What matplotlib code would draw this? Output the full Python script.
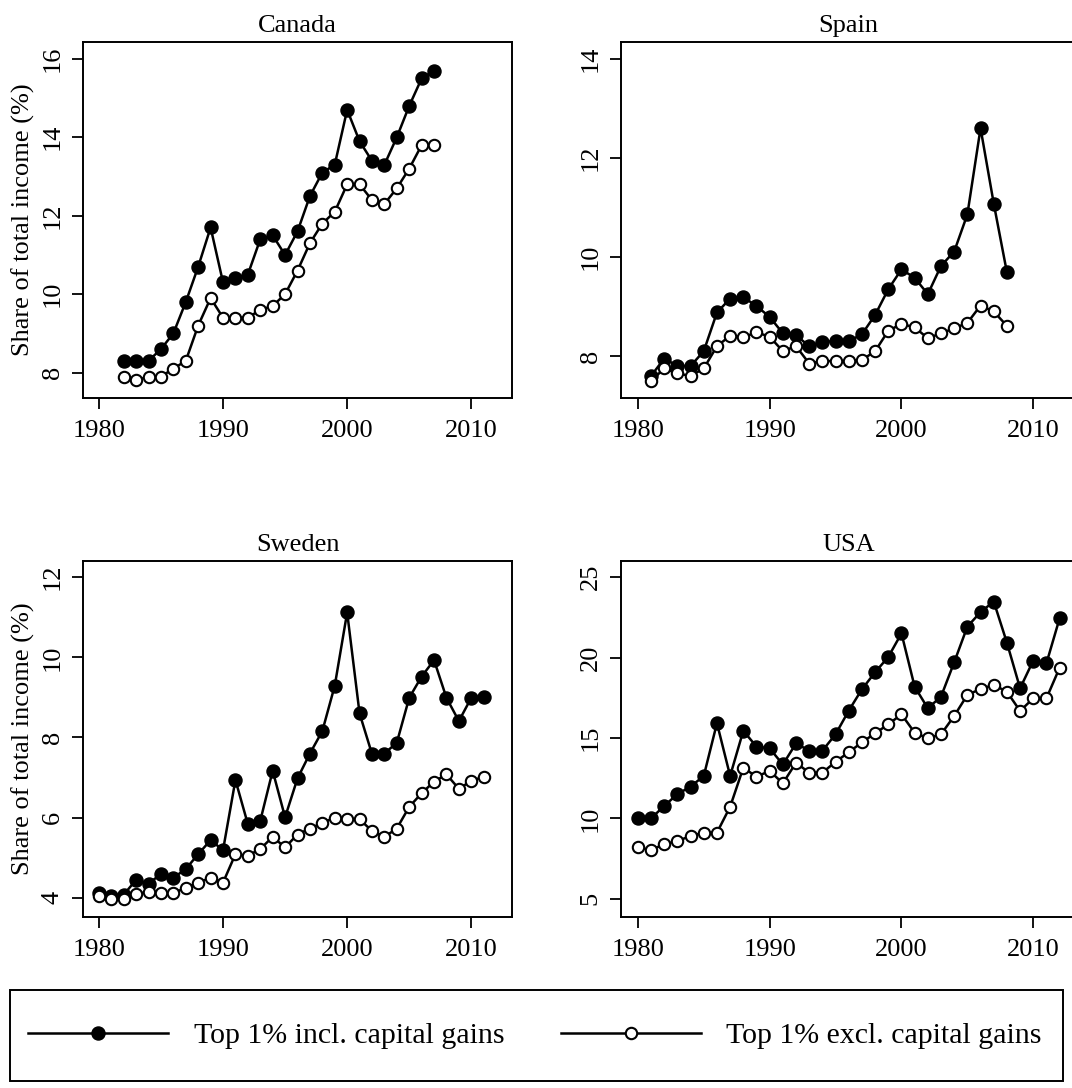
import matplotlib
matplotlib.use('Agg')
import matplotlib.pyplot as plt
from matplotlib.lines import Line2D
from matplotlib.patches import Rectangle

# 全局字体：Times 风格衬线
plt.rcParams['font.family'] = ['Liberation Serif', 'DejaVu Serif']
plt.rcParams['font.size'] = 19

# 数据：年份与两组收入份额（含/不含资本利得）
canada_years = list(range(1982, 2008))
canada_incl = [8.3, 8.3, 8.3, 8.6, 9.0, 9.8, 10.7, 11.7, 10.3, 10.4, 10.5, 11.4, 11.5,
               11.0, 11.6, 12.5, 13.1, 13.3, 14.7, 13.9, 13.4, 13.3, 14.0, 14.8, 15.5, 15.7]
canada_excl = [7.9, 7.8, 7.9, 7.9, 8.1, 8.3, 9.2, 9.9, 9.4, 9.4, 9.4, 9.6, 9.7,
               10.0, 10.6, 11.3, 11.8, 12.1, 12.8, 12.8, 12.4, 12.3, 12.7, 13.2, 13.8, 13.8]

spain_years = list(range(1981, 2009))
spain_incl = [7.6, 7.95, 7.8, 7.8, 8.1, 8.88, 9.16, 9.19, 9.01, 8.79, 8.46, 8.42, 8.2, 8.29,
              8.3, 8.3, 8.44, 8.83, 9.35, 9.75, 9.58, 9.25, 9.82, 10.11, 10.86, 12.6, 11.08, 9.69]
spain_excl = [7.5, 7.75, 7.65, 7.6, 7.75, 8.2, 8.41, 8.38, 8.48, 8.39, 8.1, 8.2, 7.85, 7.9,
              7.9, 7.9, 7.92, 8.1, 8.51, 8.65, 8.58, 8.36, 8.46, 8.56, 8.67, 9.02, 8.90, 8.61]

sweden_years = list(range(1980, 2012))
sweden_incl = [4.12, 4.05, 4.08, 4.45, 4.35, 4.6, 4.5, 4.72, 5.09, 5.44, 5.19, 6.94, 5.84,
               5.92, 7.17, 6.01, 6.98, 7.60, 8.16, 9.29, 11.12, 8.60, 7.59, 7.60, 7.87, 8.99,
               9.52, 9.93, 8.99, 8.41, 8.99, 9.02]
sweden_excl = [4.05, 3.98, 3.98, 4.1, 4.15, 4.12, 4.12, 4.25, 4.38, 4.5, 4.38, 5.09, 5.05,
               5.22, 5.52, 5.26, 5.58, 5.73, 5.87, 6.00, 5.97, 5.96, 5.67, 5.52, 5.73, 6.27,
               6.61, 6.90, 7.08, 6.72, 6.92, 7.02]

usa_years = list(range(1980, 2013))
usa_incl = [10.0, 10.0, 10.77, 11.51, 11.97, 12.64, 15.92, 12.64, 15.45, 14.46, 14.35, 13.35,
            14.66, 14.21, 14.21, 15.23, 16.70, 18.03, 19.09, 20.04, 21.51, 18.19, 16.85, 17.57,
            19.71, 21.93, 22.83, 23.49, 20.93, 18.09, 19.82, 19.65, 22.45]
usa_excl = [8.20, 8.03, 8.39, 8.59, 8.90, 9.11, 9.11, 10.72, 13.15, 12.59, 12.95, 12.18,
            13.46, 12.84, 12.84, 13.52, 14.11, 14.73, 15.29, 15.85, 16.47, 15.33, 14.98, 15.23,
            16.37, 17.68, 18.05, 18.30, 17.88, 16.68, 17.47, 17.47, 19.37]

LABEL_INCL = 'Top 1% incl. capital gains'
LABEL_EXCL = 'Top 1% excl. capital gains'
YLABEL = 'Share of total income (%)'

W, H = 1072, 1088

# 线型
STYLE_INCL = dict(color='black', lw=1.8, marker='o', ms=9.4, mfc='black', mec='black')
STYLE_EXCL = dict(color='black', lw=1.8, marker='o', ms=8.2, mfc='white', mec='black', mew=1.5)


def px_rect(x0, y0, x1, y1):
    """像素框 -> figure 坐标"""
    return [x0 / W, 1 - y1 / H, (x1 - x0) / W, (y1 - y0) / H]


def draw_panel(ax, title, years, incl, excl, ylim, yticks, ylabel=None):
    ax.plot(years, incl, '-', zorder=3, **STYLE_INCL)
    ax.plot(years, excl, '-', zorder=4, **STYLE_EXCL)
    ax.set_xlim(1978.72, 2013.28)
    ax.set_ylim(*ylim)
    ax.set_xticks([1980, 1990, 2000, 2010])
    ax.set_yticks(yticks)
    ax.tick_params(direction='out', length=7.8, width=1.3, pad=6)
    ax.tick_params(axis='x', pad=8)
    plt.setp(ax.get_yticklabels(), rotation=90, va='center')
    for s in ax.spines.values():
        s.set_linewidth(1.4)
    ax.set_title(title, pad=7, fontsize=19)
    if ylabel:
        ax.set_ylabel(ylabel)
        ax.yaxis.set_label_coords(-0.112, 0.5)


fig = plt.figure(figsize=(W / 100, H / 100), dpi=100)

ax1 = fig.add_axes(px_rect(83, 42, 512, 397.7))
ax2 = fig.add_axes(px_rect(621, 42, 1076.5, 397.7))
ax3 = fig.add_axes(px_rect(83, 560.7, 512, 916.7))
ax4 = fig.add_axes(px_rect(621, 560.7, 1076.5, 916.7))

draw_panel(ax1, 'Canada', canada_years, canada_incl, canada_excl,
           (7.36, 16.43), [8, 10, 12, 14, 16], YLABEL)
draw_panel(ax2, 'Spain', spain_years, spain_incl, spain_excl,
           (7.16, 14.34), [8, 10, 12, 14])
draw_panel(ax3, 'Sweden', sweden_years, sweden_incl, sweden_excl,
           (3.53, 12.41), [4, 6, 8, 10, 12], YLABEL)
draw_panel(ax4, 'USA', usa_years, usa_incl, usa_excl,
           (3.88, 26.03), [5, 10, 15, 20, 25])

# 底部图例：外框单独画
box = px_rect(10, 990, 1063, 1081)
fig.patches.append(Rectangle((box[0], box[1]), box[2], box[3], transform=fig.transFigure,
                             fill=False, edgecolor='black', lw=1.4))
handles = [Line2D([], [], **STYLE_INCL), Line2D([], [], **STYLE_EXCL)]
fig.legend(handles, [LABEL_INCL, LABEL_EXCL], ncol=2, mode='expand',
           loc='center', bbox_to_anchor=px_rect(28, 1015, 1042, 1057),
           frameon=False, fontsize=21.5, handlelength=4.7, handletextpad=0.85,
           borderaxespad=0, borderpad=0)

fig.savefig('out.png', dpi=100)
